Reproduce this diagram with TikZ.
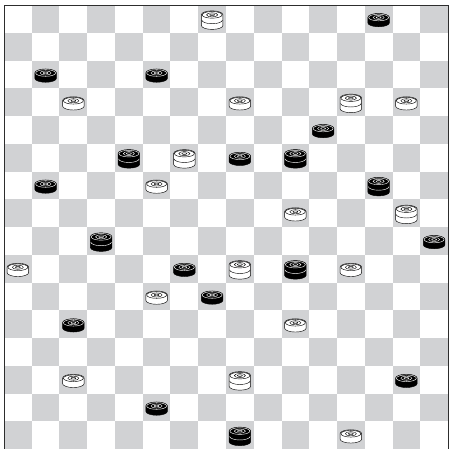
\documentclass[tikz,border=0pt]{standalone}
\usepackage{tikz}

\definecolor{sqgray}{RGB}{209,210,212}
\definecolor{rimgray}{RGB}{45,45,45}

\begin{document}
\begin{tikzpicture}[x=1cm, y=1cm,
      dark/.style={fill=sqgray},
      rim/.style={draw=rimgray, line width=1pt},
      ring/.style={line width=0.45pt},
      pics/man/.style 2 args={code={
        % body, then the rings on top
        \filldraw[fill=#1, draw=black, line width=0.45pt]
          (-0.39,0.05) -- (-0.39,-0.14)
          arc[start angle=180, end angle=360, x radius=0.39, y radius=0.145]
          -- (0.39,0.05)
          arc[start angle=0, end angle=180, x radius=0.39, y radius=0.145] -- cycle;
        \draw[ring, #2] (0,0.05) ellipse[x radius=0.36, y radius=0.12];
        \draw[ring, #2] (0,0.05) ellipse[x radius=0.2, y radius=0.075];
        \draw[ring, #2] (0,0.05) ellipse[x radius=0.09, y radius=0.03];
      }},
      pics/king/.style 2 args={code={
        \filldraw[fill=#1, draw=black, line width=0.45pt]
          (-0.39,0.145) -- (-0.39,-0.235)
          arc[start angle=180, end angle=360, x radius=0.39, y radius=0.145]
          -- (0.39,0.145)
          arc[start angle=0, end angle=180, x radius=0.39, y radius=0.145] -- cycle;
        \draw[ring, #2] (-0.37,-0.045)
          arc[start angle=180, end angle=360, x radius=0.37, y radius=0.13];
        \draw[ring, #2] (0,0.145) ellipse[x radius=0.36, y radius=0.12];
        \draw[ring, #2] (0,0.145) ellipse[x radius=0.2, y radius=0.075];
        \draw[ring, #2] (0,0.145) ellipse[x radius=0.09, y radius=0.03];
      }}]
    \useasboundingbox (-0.144,-16) rectangle (16.036,0.18);

    % board
    \foreach \r in {0,...,15}
      \foreach \c in {0,2,...,14} {
        \pgfmathtruncatemacro\col{\c+mod(\r+1,2)}
        \fill[dark] (\col,-\r) rectangle ++(1,-1);
      }
    \draw[rim] (0,-16) -- (0,0) -- (16,0) -- (16,-16);

    % white men and kings
    \foreach \r/\c in {3/2, 3/8, 3/14, 6/5, 7/10, 9/0, 9/12, 10/5, 11/10, 13/2, 15/12}
      \pic at (\c+0.5,-\r-0.5) {man={white}{black}};
    \foreach \r/\c in {0/7, 3/12, 5/6, 7/14, 9/8, 13/8}
      \pic at (\c+0.5,-\r-0.5) {king={white}{black}};

    % black men and kings
    \foreach \r/\c in {0/13, 2/1, 2/5, 4/11, 5/8, 6/1, 8/15, 9/6, 10/7, 11/2, 13/14, 14/5}
      \pic at (\c+0.5,-\r-0.5) {man={black}{white}};
    \foreach \r/\c in {5/4, 5/10, 6/13, 8/3, 9/10, 15/8}
      \pic at (\c+0.5,-\r-0.5) {king={black}{white}};
  \end{tikzpicture}
\end{document}
